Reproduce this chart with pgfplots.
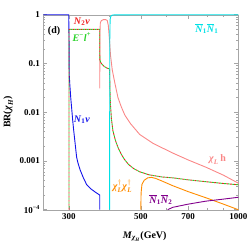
\documentclass[border=0pt]{standalone}
\usepackage{fontspec}
\setmainfont{Liberation Serif}
\usepackage{amsmath}
\usepackage{pgfplots}
\usepackage{pgfplotstable}
\pgfplotsset{compat=1.18}
\usetikzlibrary{calc}
\definecolor{cblue}{RGB}{20,20,235}
\definecolor{cred}{RGB}{240,30,30}
\definecolor{cgreen}{RGB}{40,210,40}
\definecolor{ccyan}{RGB}{0,225,230}
\definecolor{cpink}{RGB}{250,135,135}
\definecolor{corange}{RGB}{255,140,0}
\definecolor{cpurple}{RGB}{130,0,140}
\newcommand{\tx}[1]{\text{#1}}

\pgfplotstableread{
m br
250 0.999
299.5 0.999
300.2 0.3
300.6 0.058
302 0.035
304 0.019
305.8 0.0122
308 0.007
310 0.0045
313 0.0025
316.8 0.0012
320 0.0009
325 0.00065
332 0.00046
340 0.00033
350 0.00027
360 0.000235
373.4 0.0002
373.5 0.0001
}\blue

\pgfplotstableread{
m br
300 0.0001
300 0.5
373.4 0.5
373.6 0.12
376 0.105
380 0.095
386 0.086
394 0.08
400.5 0.077
401.5 0.03
403 0.014
406 0.007
410 0.0042
417 0.0027
425 0.0019
435 0.00138
445 0.00108
458 0.00085
475 0.0007
496 0.0006
530 0.00052
580 0.00047
628 0.00045
700 0.00041
796 0.000375
900 0.000345
1000 0.000325
}\rg

\pgfplotstableread{
m br
373.5 0.031
373.8 0.4
375 0.68
378 0.76
383 0.79
390 0.79
394 0.76
397 0.6
399 0.4
401 0.25
403 0.15
408 0.075
415 0.042
425 0.02
435 0.013
446 0.0088
465 0.0058
496 0.0035
545 0.0023
628 0.00145
700 0.00105
796 0.00074
900 0.00051
1000 0.00035
}\pink

\pgfplotstableread{
m br
400.5 0.0001
401 0.3
402 0.8
404 0.93
408 0.98
415 0.995
1000 0.999
}\cyan

\pgfplotstableread{
m br
500 0.0001
501 0.00022
504 0.00033
512 0.0004
525 0.00045
540 0.00046
555 0.00044
580 0.00039
628 0.00031
700 0.000235
796 0.000175
900 0.00013
1000 0.0001
}\orng

\pgfplotstableread{
m br
605 0.0001
628 0.000112
700 0.00013
796 0.00015
900 0.000165
1000 0.00018
}\purp

\begin{document}
\begin{tikzpicture}
\begin{axis}[name=ax, scale only axis, width=195pt, height=195pt,
  xmode=log, ymode=log, xmin=250, xmax=1000, ymin=1e-4, ymax=1, clip=false,
  axis line style={gray!70}, tick style={gray!70, line width=0.5pt},
  xtick={300,500,700,1000}, xticklabels={300,500,700,1000},
  minor xtick={400,600,800,900},
  ytick={1e-4,1e-3,1e-2,1e-1,1},
  yticklabels={{10\textsuperscript{−4}},0.001,0.01,0.1,1},
  minor ytick={2e-4,3e-4,4e-4,5e-4,6e-4,7e-4,8e-4,9e-4,2e-3,3e-3,4e-3,5e-3,6e-3,7e-3,8e-3,9e-3,2e-2,3e-2,4e-2,5e-2,6e-2,7e-2,8e-2,9e-2,0.2,0.3,0.4,0.5,0.6,0.7,0.8,0.9},
  major tick length=4pt, minor tick length=2pt, tick align=inside,
  tick label style={font=\bfseries\fontsize{9}{10}\selectfont},
  xlabel={$\tx{\textit{M}}_{\tx{\textit{χ}}_{\tx{\textit{H}}}}$(GeV)},
  ylabel={BR($\tx{\textit{χ}}_{\tx{\textit{H}}}$)},
  label style={font=\bfseries\fontsize{10}{11}\selectfont},
  xlabel style={at={(axis description cs:0.52,-0.138)}, anchor=center},
  ylabel style={at={(axis description cs:-0.18,0.5)}, anchor=center},
]
\addplot[cblue, line width=0.9pt] table[x=m,y=br] {\blue};
\addplot[cpink, line width=0.9pt] table[x=m,y=br] {\pink};
\addplot[cred, line width=0.9pt, dash pattern=on 2pt off 2pt] table[x=m,y=br] {\rg};
\addplot[cgreen, line width=0.9pt, dash pattern=on 2pt off 2pt, dash phase=2pt] table[x=m,y=br] {\rg};
\addplot[ccyan, line width=0.9pt] table[x=m,y=br] {\cyan};
\addplot[corange, line width=0.9pt] table[x=m,y=br] {\orng};
\addplot[cpurple, line width=0.9pt] table[x=m,y=br] {\purp};

\begin{scope}[every node/.style={font=\bfseries\fontsize{10}{11}\selectfont, inner sep=0pt}]
\node at (axis description cs:0.055,0.916) {(d)};
\node[text=cred] at (axis description cs:0.198,0.963) {$\tx{\textit{N}}_{\tx{2}}\tx{\textit{ν}}$};
\node[text=cgreen] at (axis description cs:0.198,0.886) {$\tx{\textit{E}}^{\tx{−}}\tx{\textit{l}}^{\tx{+}}$};
\node[text=cblue] at (axis description cs:0.198,0.461) {$\tx{\textit{N}}_{\tx{1}}\tx{\textit{ν}}$};
\node[text=ccyan] at (axis description cs:0.839,0.927) {$\overline{\tx{\textit{N}}}_{\tx{1}}\overline{\tx{\textit{N}}}_{\tx{1}}$};
\node[text=cpink] at (axis description cs:0.893,0.256) {$\tx{\textit{χ}}_{\tx{\textit{L}}}\,\tx{h}$};
\node[text=corange] at (axis description cs:0.406,0.12) {$\tx{\textit{χ}}^{\dagger}_{\tx{\textit{L}}}\tx{\textit{χ}}^{\dagger}_{\tx{\textit{L}}}$};
\node[text=cpurple] at (axis description cs:0.603,0.05) {$\overline{\tx{\textit{N}}}_{\tx{1}}\overline{\tx{\textit{N}}}_{\tx{2}}$};
\end{scope}
\end{axis}
\pgfresetboundingbox
\path ($(ax.south west)+(-43.3pt,-35pt)$) rectangle ($(ax.north east)+(10.7pt,14.7pt)$);
\end{tikzpicture}
\end{document}
